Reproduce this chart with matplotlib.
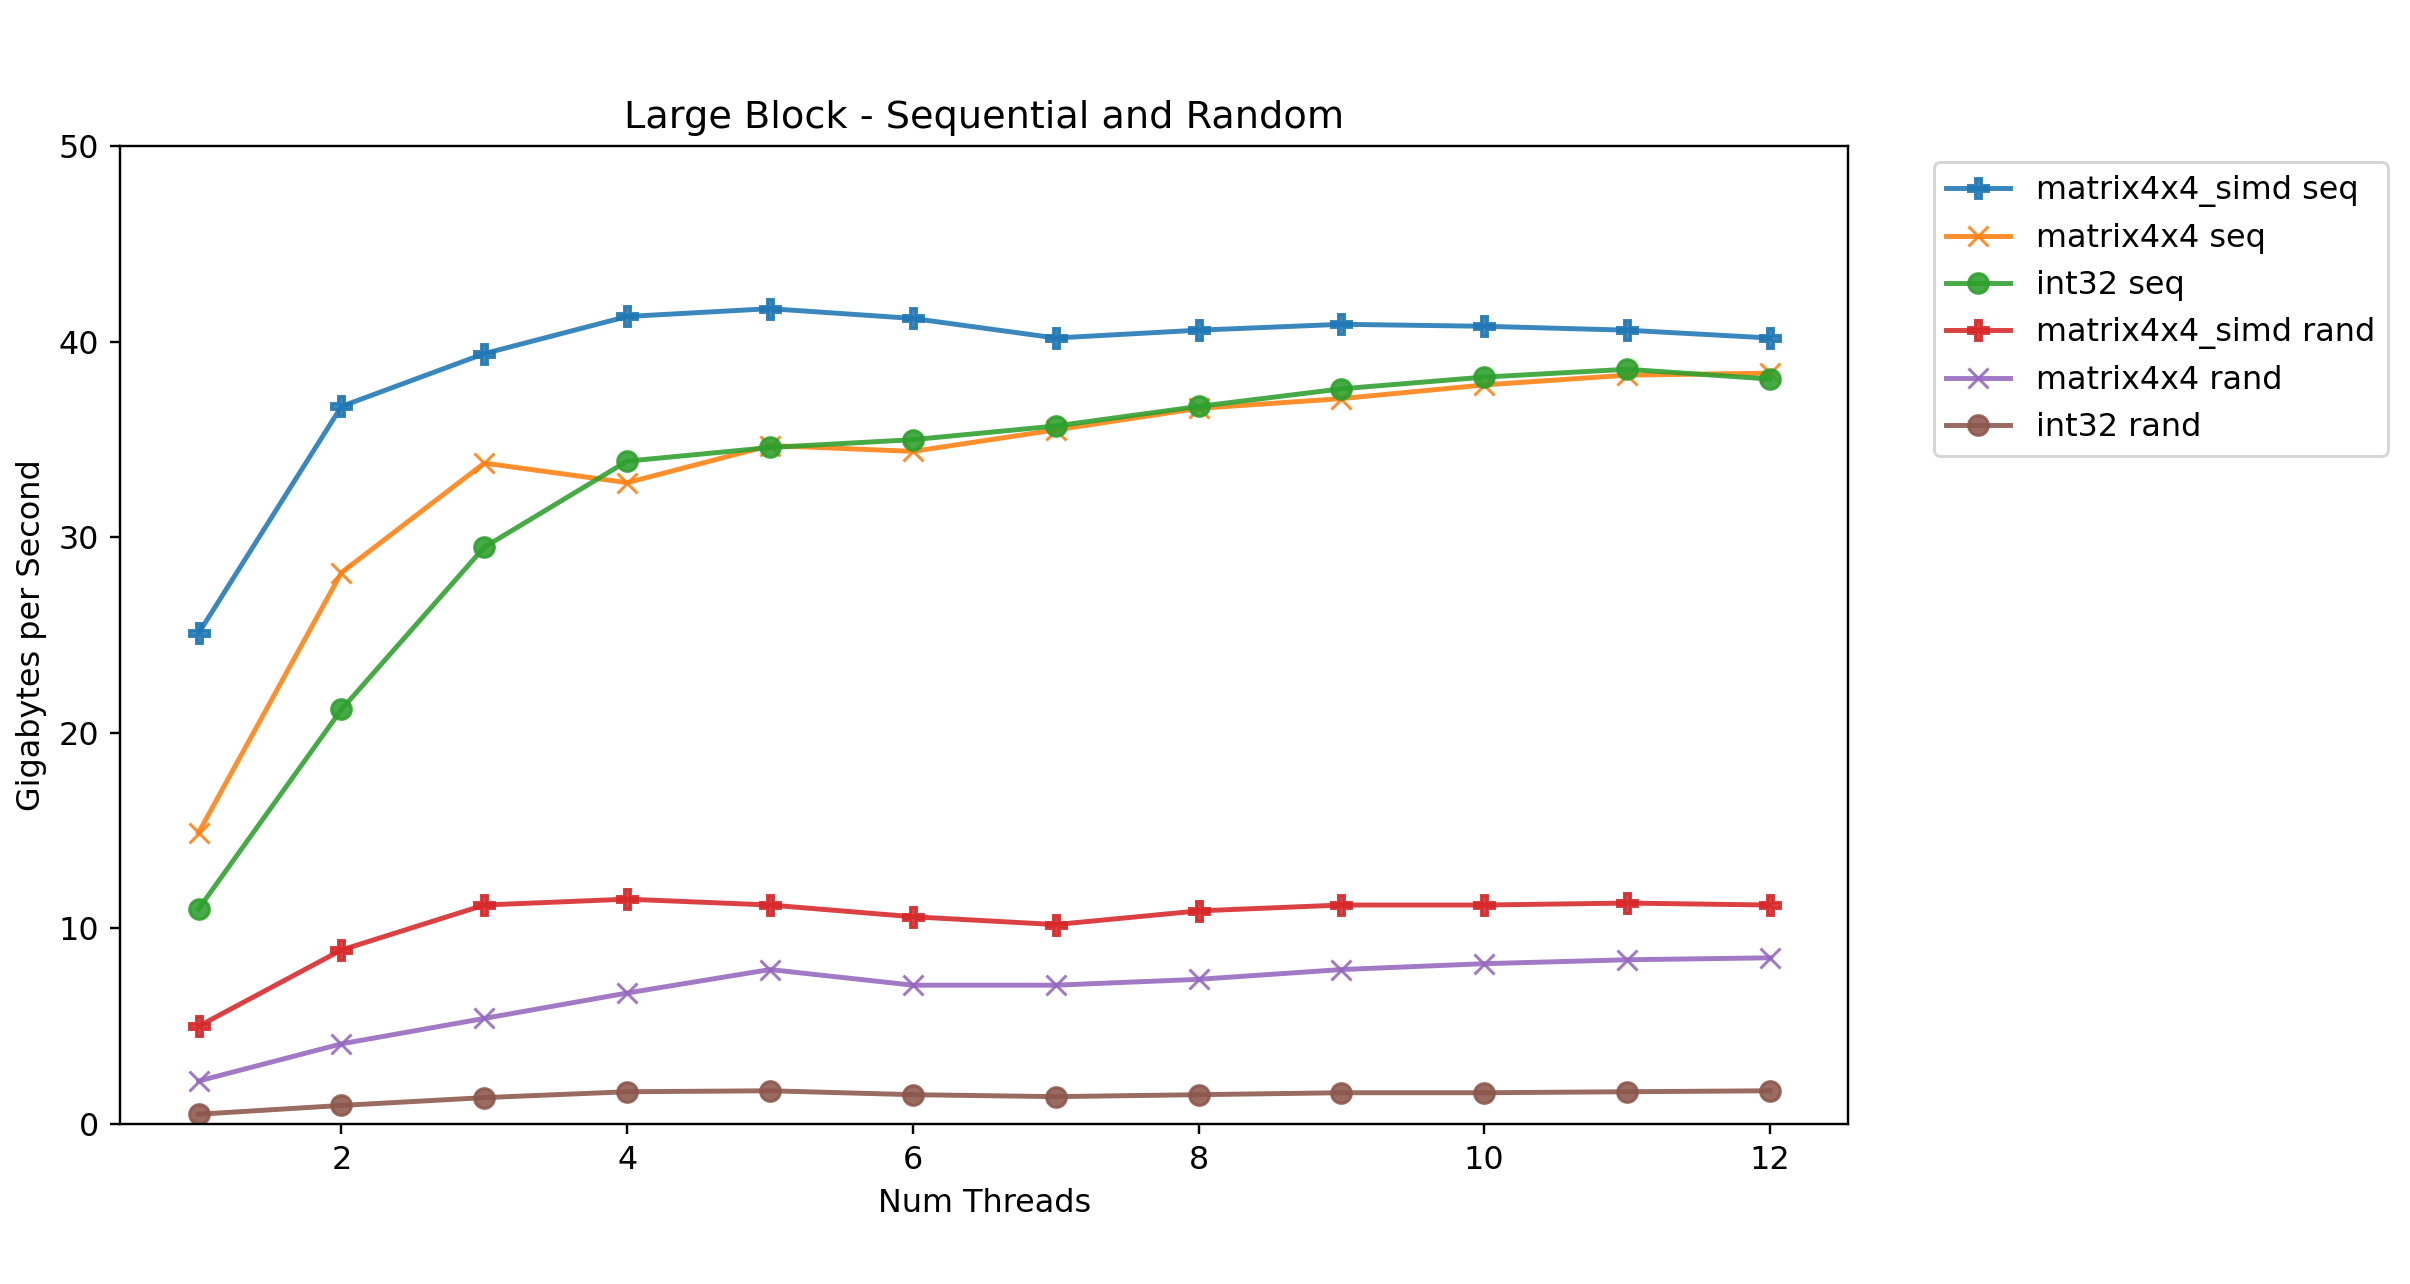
import matplotlib
matplotlib.use("Agg")
from matplotlib import pyplot as plt

threads = [1, 2, 3, 4, 5, 6, 7, 8, 9, 10, 11, 12]

simd_seq = [25.1, 36.7, 39.4, 41.3, 41.7, 41.2, 40.2, 40.6, 40.9, 40.8, 40.6, 40.2]
matrix_seq = [14.9, 28.2, 33.8, 32.8, 34.7, 34.4, 35.5, 36.6, 37.1, 37.8, 38.3, 38.4]
int32_seq = [11.0, 21.2, 29.5, 33.9, 34.6, 35.0, 35.7, 36.7, 37.6, 38.2, 38.6, 38.1]
simd_rand = [5.0, 8.9, 11.2, 11.5, 11.2, 10.6, 10.2, 10.9, 11.2, 11.2, 11.3, 11.2]
matrix_rand = [2.2, 4.1, 5.4, 6.7, 7.9, 7.1, 7.1, 7.4, 7.9, 8.2, 8.4, 8.5]
int32_rand = [0.5, 0.95, 1.35, 1.65, 1.7, 1.5, 1.4, 1.5, 1.6, 1.6, 1.65, 1.7]

series = [
    ("matrix4x4_simd seq", simd_seq, "P"),
    ("matrix4x4 seq", matrix_seq, "x"),
    ("int32 seq", int32_seq, "o"),
    ("matrix4x4_simd rand", simd_rand, "P"),
    ("matrix4x4 rand", matrix_rand, "x"),
    ("int32 rand", int32_rand, "o"),
]


def main():
    plt.rcParams['font.size'] = 10.7
    plt.rcParams['lines.linewidth'] = 1.65
    plt.rcParams['lines.markersize'] = 6.6

    dpi = 215
    fig = plt.figure(figsize=(2410 / dpi, 1284 / dpi), dpi=dpi)
    ax = fig.add_axes([0.0498, 0.1246, 0.7172, 0.7614])

    for name, vals, marker in series:
        ax.plot(threads, vals, marker=marker, label=name, alpha=0.88)

    ax.set_ylim(0, 50)
    ax.set_title("Large Block - Sequential and Random")
    ax.set_xlabel("Num Threads")
    ax.set_ylabel("Gigabytes per Second")
    ax.legend(bbox_to_anchor=(1.04, 1), loc="upper left")

    fig.savefig("out.png", dpi=dpi)


if __name__ == '__main__':
    main()
